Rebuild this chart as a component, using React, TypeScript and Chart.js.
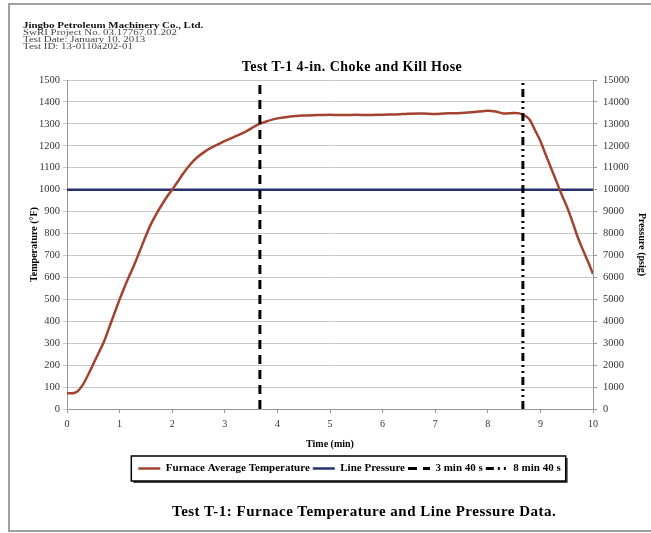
import React, { useEffect, useRef } from "react";
import { Chart, registerables } from "chart.js";

Chart.register(...registerables);

// ---- Data ----
const timeMin = [
  0, 0.1, 0.15, 0.2, 0.3, 0.4, 0.5, 0.6, 0.7, 0.8, 0.9, 1.0, 1.1, 1.2, 1.3, 1.4, 1.5, 1.6, 1.7, 1.8, 1.9,
  2.0, 2.1, 2.2, 2.3, 2.4, 2.5, 2.6, 2.7, 2.8, 2.9, 3.0, 3.2, 3.4, 3.6, 3.7, 3.8, 4.0, 4.25, 4.5, 4.75,
  5.0, 5.25, 5.5, 5.75, 6.0, 6.25, 6.5, 6.75, 7.0, 7.25, 7.5, 7.75, 8.0, 8.15, 8.3, 8.5, 8.6, 8.7, 8.8,
  8.9, 9.0, 9.1, 9.2, 9.3, 9.4, 9.5, 9.6, 9.7, 9.8, 9.9, 10.0,
];
const furnaceTempF = [
  72, 72, 74, 80, 110, 155, 205, 255, 305, 370, 435, 500, 560, 615, 670, 730, 790, 845, 890, 930, 968,
  1000, 1035, 1070, 1102, 1130, 1152, 1170, 1186, 1198, 1210, 1222, 1243, 1265, 1293, 1303, 1312, 1325,
  1334, 1338, 1340, 1342, 1340, 1341, 1340, 1342, 1343, 1346, 1347, 1345, 1348, 1350, 1354, 1360, 1356,
  1347, 1350, 1348, 1338, 1318, 1270, 1222, 1160, 1100, 1040, 980, 925, 860, 790, 730, 675, 615,
];
const pressureTimeMin = [0, 10];
const linePressurePsig = [10000, 10000];
const markerTimeMin = [3.667, 8.667];
const markerLabels = ["3 min 40 s", "8 min 40 s"];
const tempAxisRange = [0, 1500];
const pressureAxisRange = [0, 15000];
const timeAxisRange = [0, 10];

const SERIF = "'Liberation Serif', 'Times New Roman', serif";
const LEGEND_SHIFT = 14;

const legendBoxPlugin = {
  id: "legendBox",
  afterLayout(chart: any) {
    const lg = chart.legend;
    if (lg) {
      lg.left += LEGEND_SHIFT;
      lg.right += LEGEND_SHIFT;
    }
  },
  beforeDraw(chart: any) {
    const lg = chart.legend;
    const boxes = lg && lg.legendHitBoxes;
    if (!boxes || !boxes.length) return;
    let l = Infinity, r = -Infinity, t = Infinity, b = -Infinity;
    boxes.forEach((h: any) => {
      l = Math.min(l, h.left);
      r = Math.max(r, h.left + h.width);
      t = Math.min(t, h.top);
      b = Math.max(b, h.top + h.height);
    });
    const ctx = chart.ctx;
    const x = l - 7, y = t - 7, w = r - l + 12, hh = b - t + 14;
    ctx.save();
    ctx.fillStyle = "#444";
    ctx.fillRect(x + 2, y + 2, w, hh);
    ctx.fillStyle = "#fff";
    ctx.fillRect(x, y, w, hh);
    ctx.strokeStyle = "#000";
    ctx.lineWidth = 1.5;
    ctx.strokeRect(x, y, w, hh);
    ctx.restore();
  },
};

export default function App() {
  const ref = useRef<HTMLCanvasElement | null>(null);

  useEffect(() => {
    if (!ref.current) return;
    const tickFont = { family: SERIF, size: 10.5 };
    const titleFont = { family: SERIF, size: 10, weight: "bold" as const };
    const defaultGen = (Chart as any).defaults.plugins.legend.labels.generateLabels;
    const chart = new Chart(ref.current, {
      type: "line",
      data: {
        datasets: [
          {
            label: "Furnace Average Temperature",
            data: timeMin.map((t, i) => ({ x: t, y: furnaceTempF[i] })),
            borderColor: "#a3432f",
            backgroundColor: "#a3432f",
            borderWidth: 2.5,
            pointRadius: 0,
            tension: 0.2,
            yAxisID: "y",
            order: 3,
          },
          {
            label: "Line Pressure",
            data: pressureTimeMin.map((t, i) => ({ x: t, y: linePressurePsig[i] })),
            borderColor: "#26306e",
            backgroundColor: "#26306e",
            borderWidth: 2.5,
            pointRadius: 0,
            yAxisID: "y2",
            order: 4,
          },
          {
            label: markerLabels[0],
            data: [
              { x: markerTimeMin[0], y: tempAxisRange[0] },
              { x: markerTimeMin[0], y: tempAxisRange[1] },
            ],
            borderColor: "#000",
            backgroundColor: "#000",
            borderWidth: 3,
            borderDash: [9, 6],
            pointRadius: 0,
            yAxisID: "y",
            order: 1,
          },
          {
            label: markerLabels[1],
            data: [
              { x: markerTimeMin[1], y: tempAxisRange[0] },
              { x: markerTimeMin[1], y: tempAxisRange[1] },
            ],
            borderColor: "#000",
            backgroundColor: "#000",
            borderWidth: 3,
            borderDash: [8, 4, 2, 4, 2, 4],
            pointRadius: 0,
            yAxisID: "y",
            order: 2,
          },
        ],
      },
      options: {
        responsive: false,
        animation: false,
        layout: { padding: { left: 20, right: 0, top: 80, bottom: 49 } },
        plugins: {
          title: { display: false },
          tooltip: { enabled: false },
          legend: {
            position: "bottom",
            labels: {
              usePointStyle: true,
              pointStyle: "line",
              pointStyleWidth: 22,
              padding: 3,
              color: "#000",
              font: { family: SERIF, size: 11, weight: "bold" },
              sort: (a: any, b: any) => a.datasetIndex - b.datasetIndex,
              generateLabels: (c: any) => {
                const items = defaultGen(c);
                items.forEach((it: any) => {
                  const ds = c.data.datasets[it.datasetIndex];
                  it.lineDash = ds.borderDash || [];
                  it.lineWidth = ds.borderWidth;
                  it.strokeStyle = ds.borderColor;
                  it.pointStyle = "line";
                });
                return items;
              },
            },
          },
        },
        scales: {
          x: {
            type: "linear",
            min: timeAxisRange[0],
            max: timeAxisRange[1],
            ticks: { stepSize: 1, font: { family: SERIF, size: 10 }, color: "#333", padding: 5, callback: (v: any) => String(v) },
            grid: { drawOnChartArea: false, tickLength: 4, color: "#999" },
            border: { color: "#999" },
            title: { display: true, text: "Time (min)", font: titleFont, color: "#000", padding: { top: 3, bottom: 10 } },
          },
          y: {
            position: "left",
            min: tempAxisRange[0],
            max: tempAxisRange[1],
            ticks: { stepSize: 100, font: tickFont, color: "#333", padding: 3, callback: (v: any) => String(v) },
            grid: { color: "#c8c8c8", tickLength: 4 },
            border: { color: "#999" },
            title: { display: true, text: "Temperature (°F)", font: titleFont, color: "#000", padding: { top: 8, bottom: 2 } },
            afterFit: (s: any) => {
              s.width = 47;
            },
          },
          y2: {
            position: "right",
            min: pressureAxisRange[0],
            max: pressureAxisRange[1],
            ticks: { stepSize: 1000, font: tickFont, color: "#333", padding: 6, callback: (v: any) => String(v) },
            grid: { drawOnChartArea: false, tickLength: 4, color: "#999" },
            border: { color: "#999" },
            title: { display: true, text: "Pressure (psig)", font: titleFont, color: "#000", padding: { top: 3, bottom: 2 } },
            afterFit: (s: any) => {
              s.width = 58;
            },
          },
        },
      } as any,
      plugins: [legendBoxPlugin],
    });
    return () => chart.destroy();
  }, []);

  return (
    <div style={{ position: "absolute", left: 0, top: 0, width: 651, height: 533, overflow: "hidden", background: "#fff" }}>
      <div
        style={{
          position: "absolute",
          left: 8,
          top: 3,
          width: 700,
          height: 529,
          border: "2px solid #a0a0a0",
          boxSizing: "border-box",
        }}
      />
      <canvas ref={ref} width={651} height={533} style={{ position: "absolute", left: 0, top: 0 }} />
      <div
        style={{
          position: "absolute",
          left: 23,
          top: 22,
          fontFamily: SERIF,
          fontSize: 9.5,
          lineHeight: "9.15px",
          color: "#444",
          whiteSpace: "nowrap",
          transform: "scale(1.15, 0.8)",
          transformOrigin: "0 0",
        }}
      >
        <div style={{ fontWeight: "bold", color: "#111" }}>Jingbo Petroleum Machinery Co., Ltd.</div>
        <div>SwRI Project No. 03.17767.01.202</div>
        <div>Test Date: January 10, 2013</div>
        <div>Test ID: 13-0110a202-01</div>
      </div>
      <div
        style={{
          position: "absolute",
          left: 0,
          width: 704,
          top: 59,
          textAlign: "center",
          fontFamily: SERIF,
          fontWeight: "bold",
          fontSize: 14,
          lineHeight: "16px",
          letterSpacing: "0.45px",
          color: "#000",
          whiteSpace: "nowrap",
        }}
      >
        Test T-1 4-in. Choke and Kill Hose
      </div>
      <div
        style={{
          position: "absolute",
          left: 172,
          top: 502,
          fontFamily: SERIF,
          fontWeight: "bold",
          fontSize: 15,
          lineHeight: "18px",
          letterSpacing: "0.5px",
          color: "#000",
          whiteSpace: "nowrap",
        }}
      >
        Test T-1: Furnace Temperature and Line Pressure Data.
      </div>
    </div>
  );
}
